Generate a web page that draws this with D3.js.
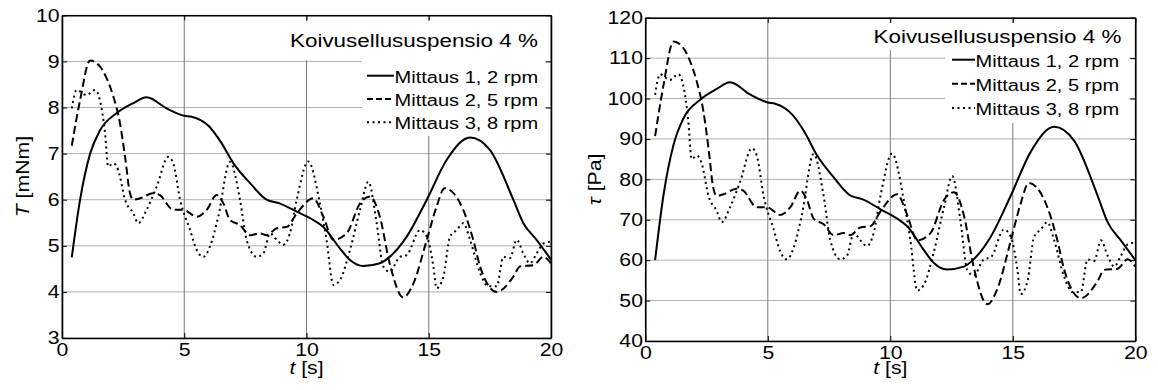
<!DOCTYPE html>
<html><head><meta charset="utf-8">
<script src="https://cdn.jsdelivr.net/npm/d3@7"></script>
<style>
body{margin:0;background:#fff}
svg{display:block}
text{font-family:"Liberation Sans",Arial,sans-serif;fill:#000}
</style>
</head><body>
<svg id="c" width="1158" height="390"></svg>
<script>
// ---------------- DATA ----------------
const xTicks = [0, 5, 10, 15, 20];
const torqueTicks = [3, 4, 5, 6, 7, 8, 9, 10];
const tauTicks = [40, 50, 60, 70, 80, 90, 100, 110, 120];
const seriesNames = ["Mittaus 1, 2 rpm", "Mittaus 2, 5 rpm", "Mittaus 3, 8 rpm"];
const titleText = "Koivusellususpensio 4 %";

const tSolid = [0.4, 0.74, 1.15, 1.55, 2.24, 2.9, 3.46, 4.28, 5.0, 5.3, 6.0, 6.5, 7.0, 7.69, 8.37, 8.9, 9.6, 10.28, 10.69, 11.37, 11.78, 12.32, 13.0, 13.4, 14.1, 14.92, 15.73, 16.69, 17.5, 18.46, 18.87, 19.41, 20.0];
const torqueSolid = [4.75, 6.0, 7.0, 7.5, 7.88, 8.09, 8.22, 7.98, 7.82, 7.8, 7.6, 7.25, 6.8, 6.36, 6.0, 5.92, 5.74, 5.56, 5.41, 4.94, 4.69, 4.56, 4.62, 4.76, 5.2, 6.0, 6.86, 7.35, 7.08, 6.0, 5.49, 5.13, 4.7];
const tauSolid = [60, 76, 88.5, 95, 99.7, 102.3, 104, 101, 99, 98.7, 96, 91.7, 86, 80.5, 76, 75, 72.6, 70.3, 68.4, 62.5, 59.3, 57.7, 58.4, 60.2, 65.8, 76, 86.8, 93, 89.6, 76, 69.4, 64.9, 60];

const tDash = [0.4, 0.74, 1.15, 1.55, 1.83, 2.1, 2.37, 2.58, 2.78, 2.92, 3.19, 3.73, 4.0, 4.55, 4.96, 5.51, 5.92, 6.33, 6.6, 6.87, 7.28, 7.69, 8.1, 8.37, 8.78, 9.19, 9.6, 10.28, 10.69, 11.1, 11.64, 12.19, 12.6, 13.0, 13.4, 13.96, 14.37, 14.92, 15.32, 15.65, 16.41, 16.82, 17.1, 17.78, 18.46, 18.73, 19.28, 19.69, 20.0];
const torqueDash = [7.17, 8.16, 9.02, 8.89, 8.63, 8.24, 7.66, 6.93, 6.14, 6.0, 6.03, 6.14, 6.1, 5.78, 5.78, 5.63, 5.78, 6.1, 5.92, 5.56, 5.45, 5.23, 5.27, 5.23, 5.38, 5.41, 5.7, 6.03, 5.63, 5.13, 5.27, 5.92, 6.07, 5.63, 4.62, 3.88, 4.18, 5.13, 5.85, 6.25, 5.78, 5.13, 4.55, 4.0, 4.33, 4.55, 4.58, 4.76, 4.62];
const tauDash = [90.7, 103.2, 114.1, 112.5, 109.2, 104.2, 96.9, 87.7, 77.7, 75.9, 76.3, 77.7, 77.2, 73.1, 73.1, 71.2, 73.1, 77.2, 74.9, 70.3, 68.9, 66.2, 66.7, 66.2, 68.1, 68.4, 72.1, 76.3, 71.2, 64.9, 66.7, 74.9, 76.8, 71.2, 58.4, 49.1, 52.9, 64.9, 74, 79.1, 73.1, 64.9, 57.6, 50.6, 54.8, 57.6, 57.9, 60.2, 58.4];

const tDot = [0.4, 0.6, 1.0, 1.35, 1.55, 1.76, 1.89, 2.1, 2.3, 2.58, 2.92, 3.12, 3.46, 3.87, 4.35, 4.55, 4.83, 5.24, 5.51, 5.78, 6.05, 6.39, 6.87, 7.28, 7.55, 7.96, 8.23, 8.51, 8.78, 9.05, 9.32, 9.6, 10.07, 10.55, 10.82, 11.1, 11.37, 11.78, 12.19, 12.53, 12.87, 13.14, 13.4, 13.82, 14.1, 14.64, 14.92, 15.19, 15.32, 15.6, 15.87, 16.14, 16.41, 16.69, 17.1, 17.44, 17.78, 18.05, 18.32, 18.6, 18.87, 19.14, 19.41, 19.69, 20.0];
const torqueDot = [7.98, 8.38, 8.27, 8.38, 8.16, 7.44, 6.72, 6.79, 6.64, 6.0, 5.7, 5.49, 5.78, 6.28, 6.93, 6.79, 6.0, 5.34, 4.91, 4.76, 4.98, 5.63, 6.82, 6.0, 5.13, 4.76, 4.83, 5.27, 5.13, 5.02, 5.27, 6.0, 6.83, 5.92, 5.13, 4.15, 4.26, 4.91, 5.78, 6.39, 5.49, 4.55, 4.44, 4.76, 4.8, 5.34, 5.2, 4.55, 4.08, 4.33, 5.2, 5.34, 5.49, 5.13, 4.41, 4.12, 4.12, 4.76, 4.73, 5.13, 4.83, 4.62, 4.83, 5.05, 5.09];
const tauDot = [100.9, 106, 104.6, 106, 103.2, 94.1, 85, 85.9, 84, 75.9, 72.1, 69.4, 73.1, 79.4, 87.7, 85.9, 75.9, 67.6, 62.1, 60.2, 63, 71.2, 86.3, 75.9, 64.9, 60.2, 61.1, 66.7, 64.9, 63.5, 66.7, 75.9, 86.4, 74.9, 64.9, 52.5, 53.9, 62.1, 73.1, 80.8, 69.4, 57.6, 56.2, 60.2, 60.7, 67.6, 65.8, 57.6, 51.6, 54.8, 65.8, 67.6, 69.4, 64.9, 55.8, 52.1, 52.1, 60.2, 59.8, 64.9, 61.1, 58.4, 61.1, 63.9, 64.4];

// ---------------- DRAWING ----------------
const SX = 1.18;
const styles = [
  {dash: null},
  {dash: "8,4"},
  {dash: "2,3.5"}
];
const svg = d3.select("#c");

function panel(cfg) {
  const x = d3.scaleLinear().domain([0, 20]).range([cfg.left, cfg.right]);
  const y = d3.scaleLinear().domain(cfg.yDomain).range([cfg.bottom, cfg.top]);
  const g = svg.append("g");

  // grid
  g.append("g").selectAll("line").data(cfg.yTicks).join("line")
    .attr("x1", cfg.left).attr("x2", cfg.right)
    .attr("y1", d => y(d)).attr("y2", d => y(d))
    .attr("stroke", "#b0b0b0").attr("stroke-width", 1);
  g.append("g").selectAll("line").data(xTicks).join("line")
    .attr("y1", cfg.top).attr("y2", cfg.bottom)
    .attr("x1", d => x(d)).attr("x2", d => x(d))
    .attr("stroke", "#7a7a7a").attr("stroke-width", 1);

  // white boxes behind title and legend
  g.append("rect").attr("x", cfg.titleBox[0]).attr("y", cfg.titleBox[1])
    .attr("width", cfg.titleBox[2]).attr("height", cfg.titleBox[3]).attr("fill", "#fff");
  g.append("rect").attr("x", cfg.legBox[0]).attr("y", cfg.legBox[1])
    .attr("width", cfg.legBox[2]).attr("height", cfg.legBox[3]).attr("fill", "#fff");

  // lines
  const line = d3.line().x(d => x(d[0])).y(d => y(d[1])).curve(d3.curveMonotoneX);
  cfg.series.forEach((s, i) => {
    const pts = s.t.map((t, k) => [t, s.v[k]]);
    g.append("path").attr("d", line(pts)).attr("fill", "none")
      .attr("stroke", "#000").attr("stroke-width", 2)
      .attr("stroke-dasharray", styles[i].dash)
      .attr("stroke-linejoin", "round");
  });

  // axes
  const fmt = d3.format("d");
  const axB = d3.axisBottom(x).tickValues(xTicks).tickFormat(fmt).tickSize(-5).tickSizeOuter(0).tickPadding(5);
  const axL = d3.axisLeft(y).tickValues(cfg.yTicks).tickFormat(fmt).tickSize(-5).tickSizeOuter(0).tickPadding(2);
  const axT = d3.axisTop(x).tickValues(xTicks).tickSize(-5).tickSizeOuter(0).tickFormat("");
  const axR = d3.axisRight(y).tickValues(cfg.yTicks).tickSize(-5).tickSizeOuter(0).tickFormat("");
  const gB = g.append("g").attr("transform", `translate(0,${cfg.bottom})`).call(axB);
  const gL = g.append("g").attr("transform", `translate(${cfg.left},0)`).call(axL);
  const gT = g.append("g").attr("transform", `translate(0,${cfg.top})`).call(axT);
  const gR = g.append("g").attr("transform", `translate(${cfg.right},0)`).call(axR);
  [gB, gL, gT, gR].forEach(a => {
    a.attr("font-size", null).attr("font-family", null);
    a.select(".domain").attr("stroke", "#000").attr("stroke-width", 1.6);
    a.selectAll(".tick line").attr("stroke", "#000").attr("stroke-width", 1);
    a.selectAll(".tick text").style("font-size", "18px").attr("fill", "#000")
      .attr("transform", `scale(${SX},1)`);
  });

  // title & legend
  g.append("text").attr("transform", `translate(${cfg.titleX},${cfg.titleY}) scale(${SX},1)`)
    .style("font-size", "19px").text(titleText);
  seriesNames.forEach((name, i) => {
    const yy = cfg.legRows[i];
    g.append("line").attr("x1", cfg.legLine[0]).attr("x2", cfg.legLine[1])
      .attr("y1", yy - 7).attr("y2", yy - 7)
      .attr("stroke", "#000").attr("stroke-width", 2)
      .attr("stroke-dasharray", i === 1 ? "6,3" : styles[i].dash);
    g.append("text").attr("transform", `translate(${cfg.legText},${yy}) scale(${SX},1)`)
      .style("font-size", "17px").text(name);
  });

  // axis labels
  const xl = g.append("text").attr("transform", `translate(${x(10)},374) scale(${SX},1)`)
    .attr("text-anchor", "middle").style("font-size", "18px");
  xl.append("tspan").attr("font-style", "italic").text("t");
  xl.append("tspan").text(" [s]");
  const yl = g.append("text")
    .attr("transform", `translate(${cfg.yLabelX},${(cfg.top + cfg.bottom) / 2}) rotate(-90) scale(${SX},1)`)
    .attr("text-anchor", "middle").style("font-size", "18px");
  yl.append("tspan").attr("font-style", "italic").text(cfg.ySym);
  yl.append("tspan").text(cfg.yUnit);
}

panel({
  left: 62, right: 551, top: 15.3, bottom: 338,
  yDomain: [3, 10], yTicks: torqueTicks,
  series: [{t: tSolid, v: torqueSolid}, {t: tDash, v: torqueDash}, {t: tDot, v: torqueDot}],
  titleBox: [287, 21, 258, 39], legBox: [362, 60, 183, 76],
  titleX: 290, titleY: 46.7,
  legRows: [82.7, 106, 129.3], legLine: [367, 394], legText: 394.5,
  yLabelX: 29, ySym: "T", yUnit: " [mNm]"
});
panel({
  left: 645.3, right: 1135.3, top: 17.7, bottom: 341,
  yDomain: [40, 120], yTicks: tauTicks,
  series: [{t: tSolid, v: tauSolid}, {t: tDash, v: tauDash}, {t: tDot, v: tauDot}],
  titleBox: [868, 23, 261, 27], legBox: [945, 50, 184, 73],
  titleX: 873.5, titleY: 42.7,
  legRows: [66.7, 90.7, 115], legLine: [952, 975], legText: 975.5,
  yLabelX: 601, ySym: "τ", yUnit: " [Pa]"
});
</script>
</body></html>
